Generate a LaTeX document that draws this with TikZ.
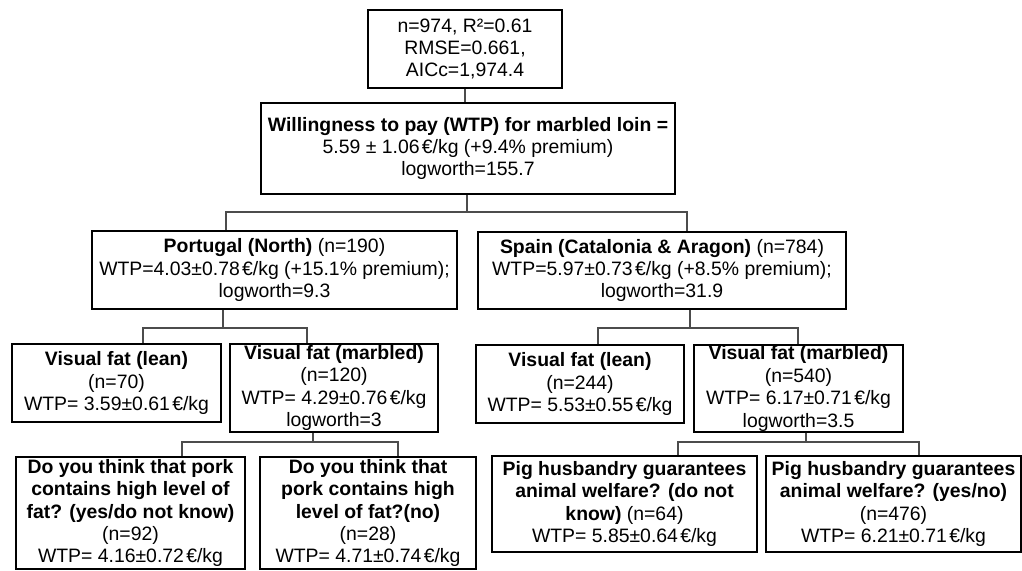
\documentclass[tikz,border=0pt]{standalone}
\usepackage{fontspec}
\setmainfont{Liberation Sans}
\newcommand{\eu}{\hspace{0.12em}€}
\begin{document}
\begin{tikzpicture}[x=0.5pt,y=-0.5pt,
  box/.style={draw=black,line width=0.9pt,fill=white,align=center,inner sep=0pt,
    font=\fontsize{9.7}{11.2}\selectfont},
  conn/.style={draw=black!70,line width=0.55pt}]
\useasboundingbox (0,0) rectangle (1022,570);
% boxes
\node[box,minimum width=97pt,minimum height=39pt] (top) at (465,49)
  {n=974, R²=0.61\\RMSE=0.661,\\AICc=1,974.4};
\node[box,minimum width=207pt,minimum height=45.5pt] (will) at (468,148.5)
  {\textbf{Willingness to pay (WTP) for marbled loin =}\\5.59 ± 1.06\eu/kg (+9.4\% premium)\\logworth=155.7};
\node[box,minimum width=182.5pt,minimum height=39pt] (PT) at (274.5,270)
  {\textbf{Portugal (North)} (n=190)\\WTP=4.03±0.78\eu/kg (+15.1\% premium);\\logworth=9.3};
\node[box,minimum width=184pt,minimum height=38.5pt] (ES) at (662,270.5)
  {\textbf{Spain (Catalonia \& Aragon)} (n=784)\\WTP=5.97±0.73\eu/kg (+8.5\% premium);\\logworth=31.9};
\node[box,minimum width=104.5pt,minimum height=39pt] (leanPT) at (116.5,383)
  {\textbf{Visual fat (lean)}\\(n=70)\\WTP= 3.59±0.61\eu/kg};
\node[box,minimum width=104pt,minimum height=44pt] (marbPT) at (334,388)
  {\textbf{Visual fat (marbled)}\\(n=120)\\WTP= 4.29±0.76\eu/kg\\logworth=3};
\node[box,minimum width=104pt,minimum height=39pt] (leanES) at (580,384)
  {\textbf{Visual fat (lean)}\\(n=244)\\WTP= 5.53±0.55\eu/kg};
\node[box,minimum width=104.5pt,minimum height=43.5pt] (marbES) at (798.5,388.5)
  {\textbf{Visual fat (marbled)}\\(n=540)\\WTP= 6.17±0.71\eu/kg\\logworth=3.5};
\node[box,minimum width=114.5pt,minimum height=56pt] (q1) at (130.5,513)
  {\textbf{Do you think that pork}\\\textbf{contains high level of}\\\textbf{fat? (yes/do not know)}\\(n=92)\\WTP= 4.16±0.72\eu/kg};
\node[box,minimum width=108pt,minimum height=56pt] (q2) at (368,513)
  {\textbf{Do you think that}\\\textbf{pork contains high}\\\textbf{level of fat?(no)}\\(n=28)\\WTP= 4.71±0.74\eu/kg};
\node[box,minimum width=132.5pt,minimum height=48pt] (pig1) at (624.5,504)
  {\textbf{Pig husbandry guarantees}\\\textbf{animal welfare? (do not}\\\textbf{know)} (n=64)\\WTP= 5.85±0.64\eu/kg};
\node[box,minimum width=127.5pt,minimum height=48pt] (pig2) at (893.5,504)
  {\textbf{Pig husbandry guarantees}\\\textbf{animal welfare? (yes/no)}\\(n=476)\\WTP= 6.21±0.71\eu/kg};
% junction coordinates
\coordinate (j1) at (467,212);
\coordinate (j1l) at (226,212);
\coordinate (j1r) at (687,212);
\coordinate (jPT) at (223,328);
\coordinate (jPTl) at (143,328);
\coordinate (jPTr) at (307,328);
\coordinate (jES) at (690,328);
\coordinate (jESl) at (598,328);
\coordinate (jESr) at (798,328);
\coordinate (jMP) at (313,442);
\coordinate (jMPl) at (182,442);
\coordinate (jMPr) at (398,442);
\coordinate (jME) at (806,442);
\coordinate (jMEl) at (678,442);
\coordinate (jMEr) at (919,442);
% connectors
\draw[conn] (top.south) -- (top.south |- will.north);
\draw[conn] (will.south -| j1) -- (j1);
\draw[conn] (PT.north -| j1l) -- (j1l) -- (j1r) -- (ES.north -| j1r);
\draw[conn] (PT.south -| jPT) -- (jPT);
\draw[conn] (leanPT.north -| jPTl) -- (jPTl) -- (jPTr) -- (marbPT.north -| jPTr);
\draw[conn] (ES.south -| jES) -- (jES);
\draw[conn] (leanES.north -| jESl) -- (jESl) -- (jESr) -- (marbES.north -| jESr);
\draw[conn] (marbPT.south -| jMP) -- (jMP);
\draw[conn] (q1.north -| jMPl) -- (jMPl) -- (jMPr) -- (q2.north -| jMPr);
\draw[conn] (marbES.south -| jME) -- (jME);
\draw[conn] (pig1.north -| jMEl) -- (jMEl) -- (jMEr) -- (pig2.north -| jMEr);
\end{tikzpicture}
\end{document}
